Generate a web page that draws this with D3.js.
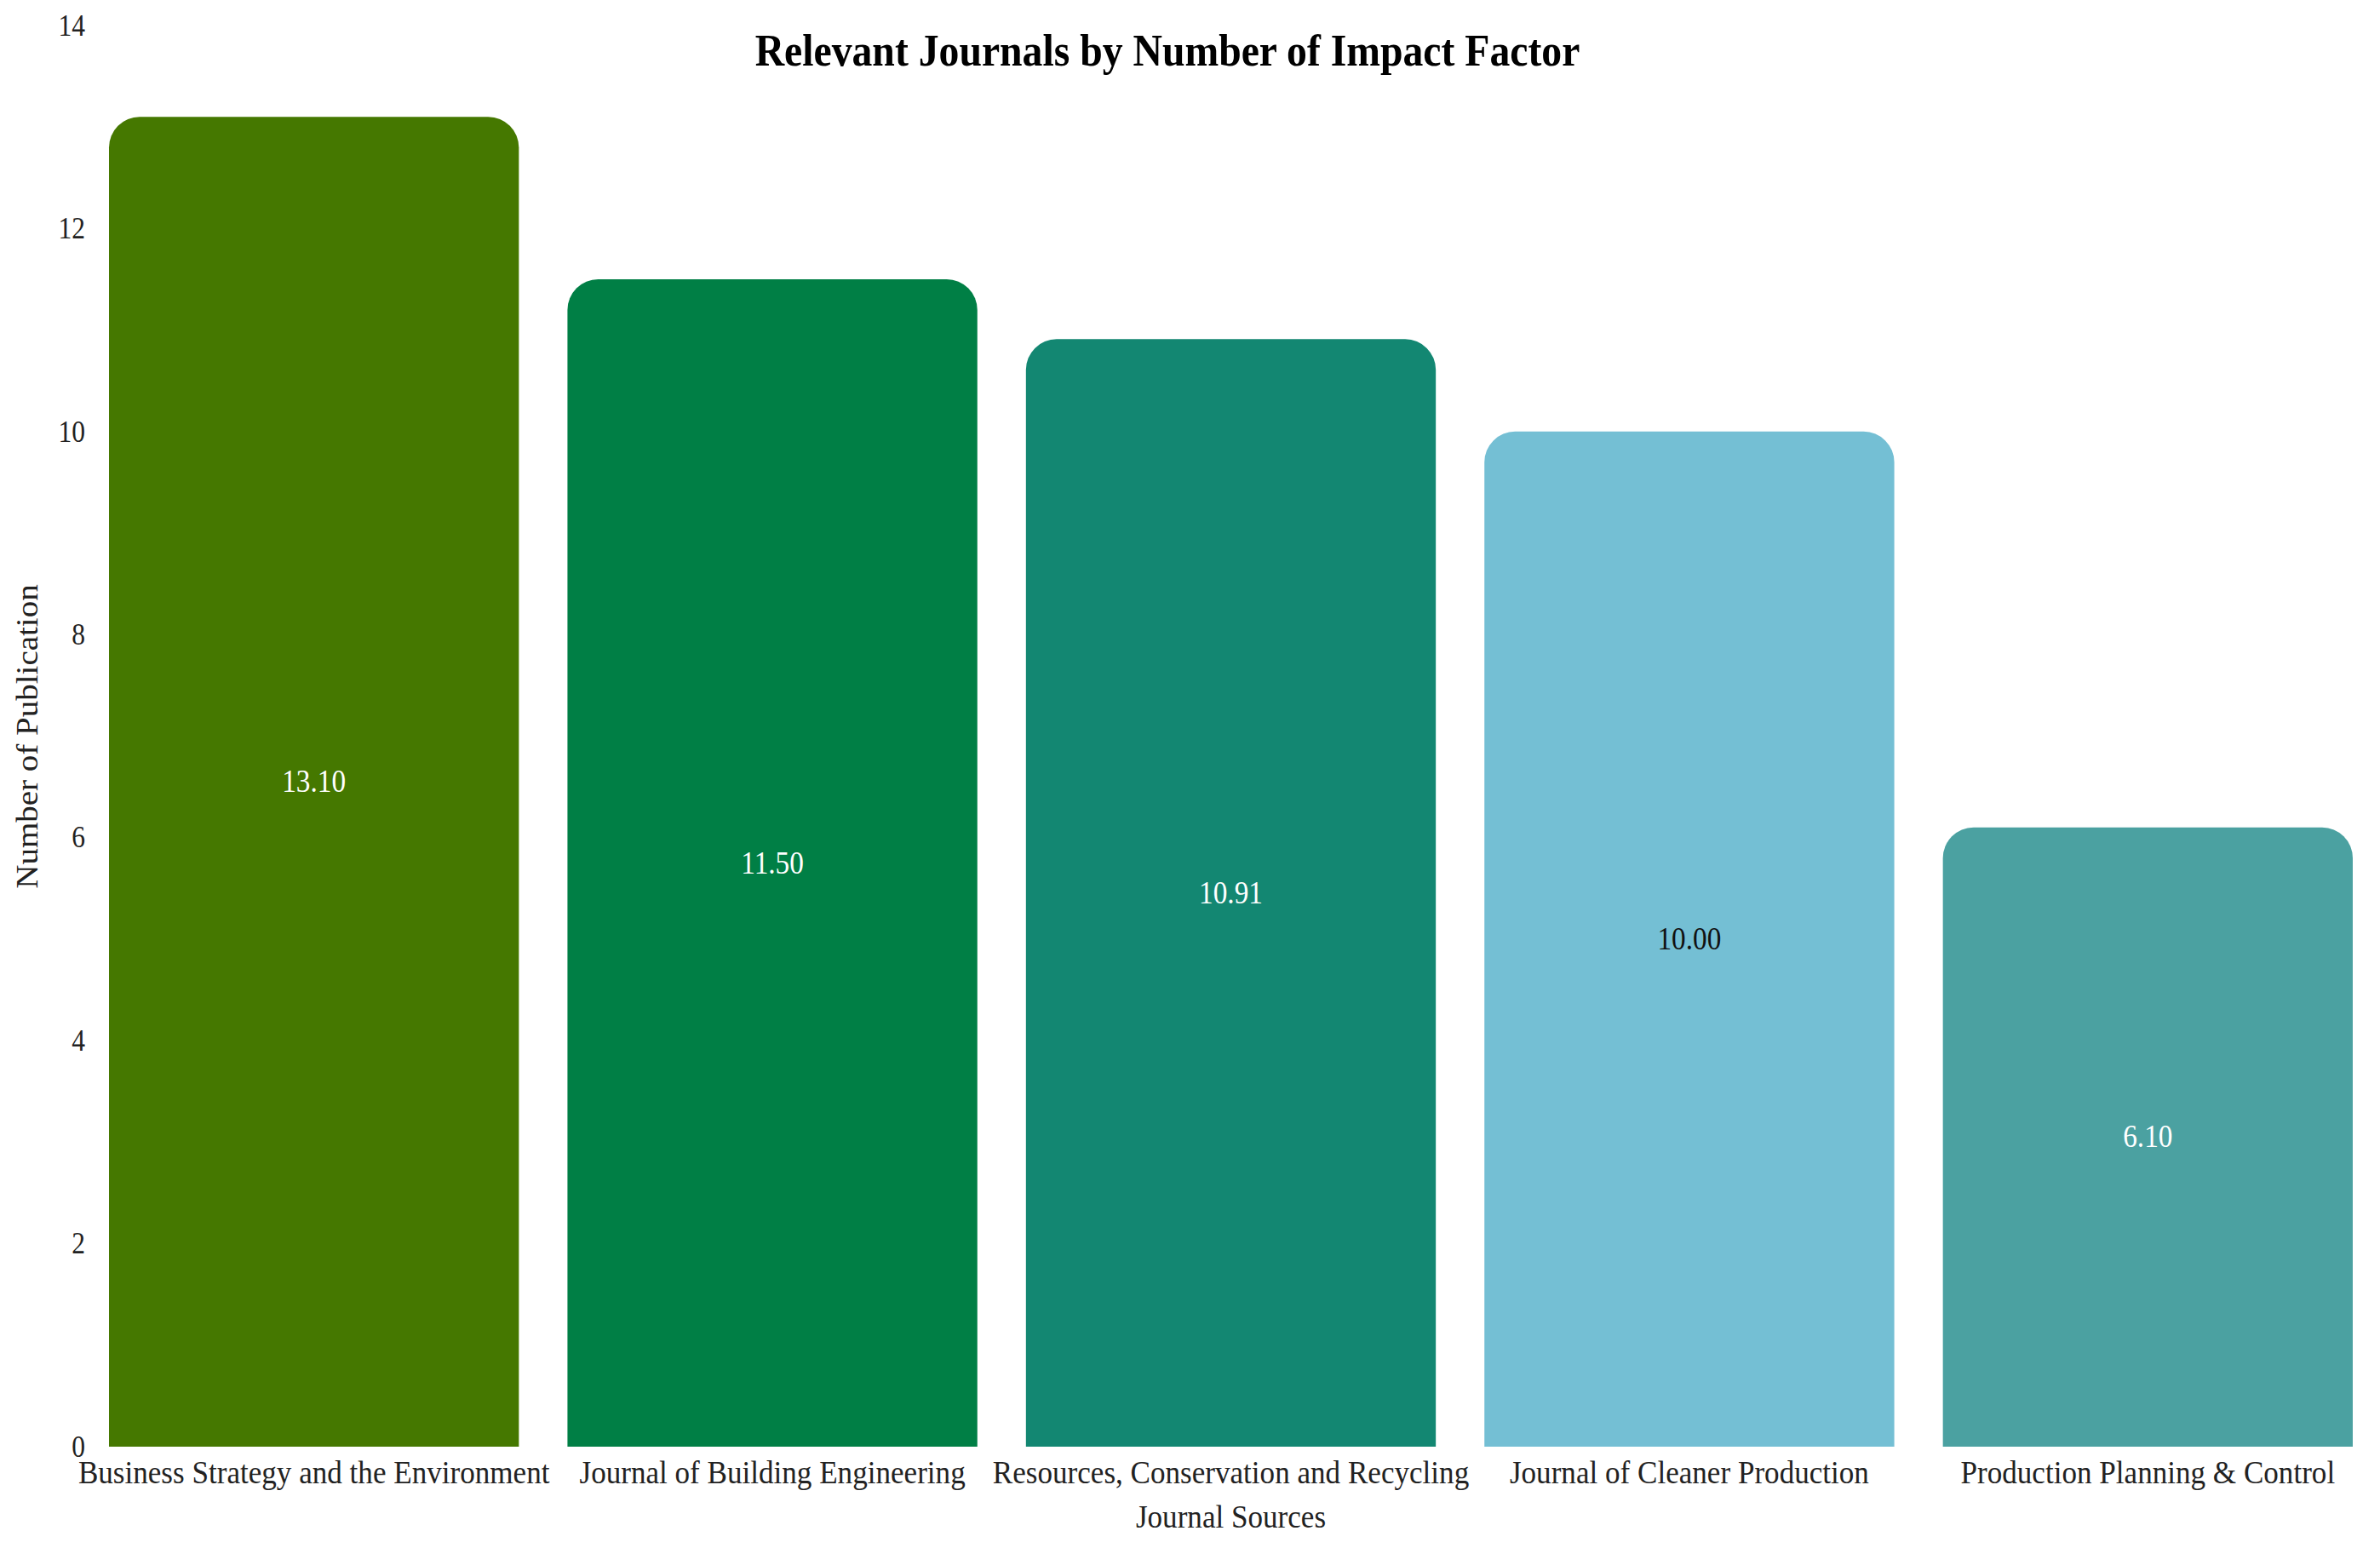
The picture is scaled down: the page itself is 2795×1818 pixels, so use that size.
<!DOCTYPE html>
<html>
<head>
<meta charset="utf-8">
<script src="https://cdn.jsdelivr.net/npm/d3@7"></script>
<style>
  html, body { margin: 0; padding: 0; background: #fff; }
  svg text { font-family: "Liberation Serif", "Times New Roman", serif; }
</style>
</head>
<body>
<svg id="chartArea"></svg>
<script>
const journals = [
  "Business Strategy and the Environment",
  "Journal of Building Engineering",
  "Resources, Conservation and Recycling",
  "Journal of Cleaner Production",
  "Production Planning & Control"
];
const impactFactors = [13.10, 11.50, 10.91, 10.00, 6.10];
const barColors = ["#457800", "#007f45", "#138772", "#74bfd4", "#4ba1a1"];
const labelColors = ["#ffffff", "#ffffff", "#ffffff", "#111111", "#ffffff"];
const yTicks = [0, 2, 4, 6, 8, 10, 12, 14];

const width = 2795,
  height = 1818,
  plotLeft = 128,
  plotRight = 2763,
  plotTop = 30,
  plotBottom = 1699,
  radius = 36,
  squeeze = 0.9; // the text in the picture looks a bit narrow

const data = journals.map((j, i) => ({
  name: j,
  value: impactFactors[i],
  color: barColors[i],
  labelColor: labelColors[i]
}));

const xScale = d3
  .scaleBand()
  .domain(journals)
  .range([plotLeft, plotRight])
  .paddingInner(0.106)
  .paddingOuter(0);
const yScale = d3
  .scaleLinear()
  .domain([0, 14])
  .range([plotBottom, plotTop]);

const svg = d3
  .select("#chartArea")
  .attr("width", width)
  .attr("height", height);

// bars with rounded top corners only
function barPath(d) {
  const x0 = xScale(d.name),
    x1 = x0 + xScale.bandwidth(),
    y0 = yScale(d.value),
    y1 = yScale(0),
    r = Math.min(radius, (y1 - y0) / 2);
  const p = d3.path();
  p.moveTo(x0, y1);
  p.lineTo(x0, y0 + r);
  p.arcTo(x0, y0, x0 + r, y0, r);
  p.lineTo(x1 - r, y0);
  p.arcTo(x1, y0, x1, y0 + r, r);
  p.lineTo(x1, y1);
  p.closePath();
  return p.toString();
}

svg
  .selectAll(".bar")
  .data(data)
  .enter()
  .append("path")
  .attr("class", "bar")
  .attr("d", barPath)
  .style("fill", d => d.color);

svg
  .selectAll(".value")
  .data(data)
  .enter()
  .append("text")
  .attr("class", "value")
  .attr("transform", d =>
    "translate(" + (xScale(d.name) + xScale.bandwidth() / 2) + "," +
    (yScale(d.value) + yScale(0)) / 2 + ") scale(" + squeeze + ",1)")
  .attr("text-anchor", "middle")
  .attr("dominant-baseline", "central")
  .style("font-size", "37px")
  .style("fill", d => d.labelColor)
  .text(d => d.value.toFixed(2));

const xAxis = d3.axisBottom(xScale).tickSize(0).tickPadding(15);
const yAxis = d3.axisLeft(yScale).tickValues(yTicks).tickSize(0).tickPadding(31);

const gx = svg
  .append("g")
  .attr("transform", "translate(0," + plotBottom + ")")
  .call(xAxis);
gx.select(".domain").remove();
gx.selectAll("text")
  .attr("transform", "scale(" + squeeze + ",1)")
  .style("font-size", "39px")
  .style("fill", "#222");

const gy = svg
  .append("g")
  .attr("transform", "translate(" + plotLeft + ",0)")
  .call(yAxis);
gy.select(".domain").remove();
gy.selectAll("text")
  .attr("transform", "scale(" + squeeze + ",1)")
  .style("font-size", "35px")
  .style("fill", "#222");

svg
  .append("text")
  .attr("transform", "translate(1371,59) scale(" + squeeze + ",1)")
  .attr("text-anchor", "middle")
  .attr("dominant-baseline", "central")
  .style("font-size", "53px")
  .style("font-weight", "bold")
  .style("fill", "#000")
  .text("Relevant Journals by Number of Impact Factor");

svg
  .append("text")
  .attr("transform", "translate(" + (plotLeft + plotRight) / 2 + ",1781) scale(" + squeeze + ",1)")
  .attr("text-anchor", "middle")
  .attr("dominant-baseline", "central")
  .style("font-size", "39px")
  .style("fill", "#222")
  .text("Journal Sources");

svg
  .append("text")
  .attr("transform", "translate(32,865) rotate(-90) scale(1," + squeeze + ")")
  .attr("text-anchor", "middle")
  .attr("dominant-baseline", "central")
  .style("font-size", "39px")
  .style("fill", "#222")
  .text("Number of Publication");
</script>
</body>
</html>
